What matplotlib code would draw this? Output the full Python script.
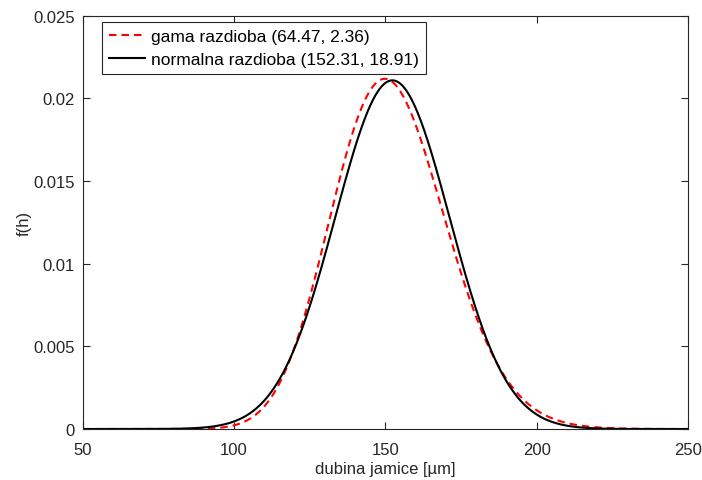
import math
import numpy as np
import matplotlib
matplotlib.use("Agg")
import matplotlib.pyplot as plt

plt.rcParams['font.family'] = ['Liberation Sans', 'DejaVu Sans']

# Fitted distribution parameters
gamma_shape, gamma_scale = 64.47, 2.36
norm_mu, norm_sigma = 152.31, 18.91

x_min, x_max = 50, 250
x_ticks = [50, 100, 150, 200, 250]
y_ticks = [0, 0.005, 0.01, 0.015, 0.02, 0.025]
y_tick_labels = ['0', '0.005', '0.01', '0.015', '0.02', '0.025']

h = np.linspace(x_min, x_max, 1000)

def gamma_pdf(x, k, theta):
    logp = (k - 1) * np.log(x) - x / theta - math.lgamma(k) - k * math.log(theta)
    return np.exp(logp)

def normal_pdf(x, mu, sigma):
    return np.exp(-0.5 * ((x - mu) / sigma) ** 2) / (sigma * math.sqrt(2 * math.pi))

fig = plt.figure(figsize=(7.02, 4.81), dpi=100)
ax = fig.add_axes([0.118, 0.106, 0.862, 0.859])

txt = '#262626'
ax.plot(h, gamma_pdf(h, gamma_shape, gamma_scale), '--', color='#ff0000', lw=1.5,
        dashes=(3.6, 2.4), label=f'gama razdioba ({gamma_shape:.2f}, {gamma_scale:.2f})')
ax.plot(h, normal_pdf(h, norm_mu, norm_sigma), '-', color='black', lw=1.5,
        label=f'normalna razdioba ({norm_mu:.2f}, {norm_sigma:.2f})')

ax.set_xlim(x_min, x_max)
ax.set_ylim(0, 0.025)
ax.set_xticks(x_ticks)
ax.set_xticklabels([str(t) for t in x_ticks])
ax.set_yticks(y_ticks)
ax.set_yticklabels(y_tick_labels)
ax.tick_params(direction='in', top=True, right=True, length=5, width=0.8,
               labelsize=12, colors=txt, labelcolor=txt)
ax.tick_params(axis='x', pad=9)
ax.tick_params(axis='y', pad=6)
for s in ax.spines.values():
    s.set_color(txt)
    s.set_linewidth(0.8)

ax.set_xlabel('dubina jamice [µm]', fontsize=12, color=txt, labelpad=3)
ax.set_ylabel('f(h)', fontsize=12, color=txt, labelpad=1)

leg = ax.legend(loc='upper left', bbox_to_anchor=(0.0314, 0.985), fontsize=12.5,
                frameon=True, fancybox=False, edgecolor=txt, framealpha=1,
                handlelength=2.1, handletextpad=0.35, borderpad=0.4,
                labelspacing=0.45, borderaxespad=0.0)
leg.get_frame().set_linewidth(0.8)
for t in leg.get_texts():
    t.set_color('black')

fig.savefig('out.png', dpi=100)
